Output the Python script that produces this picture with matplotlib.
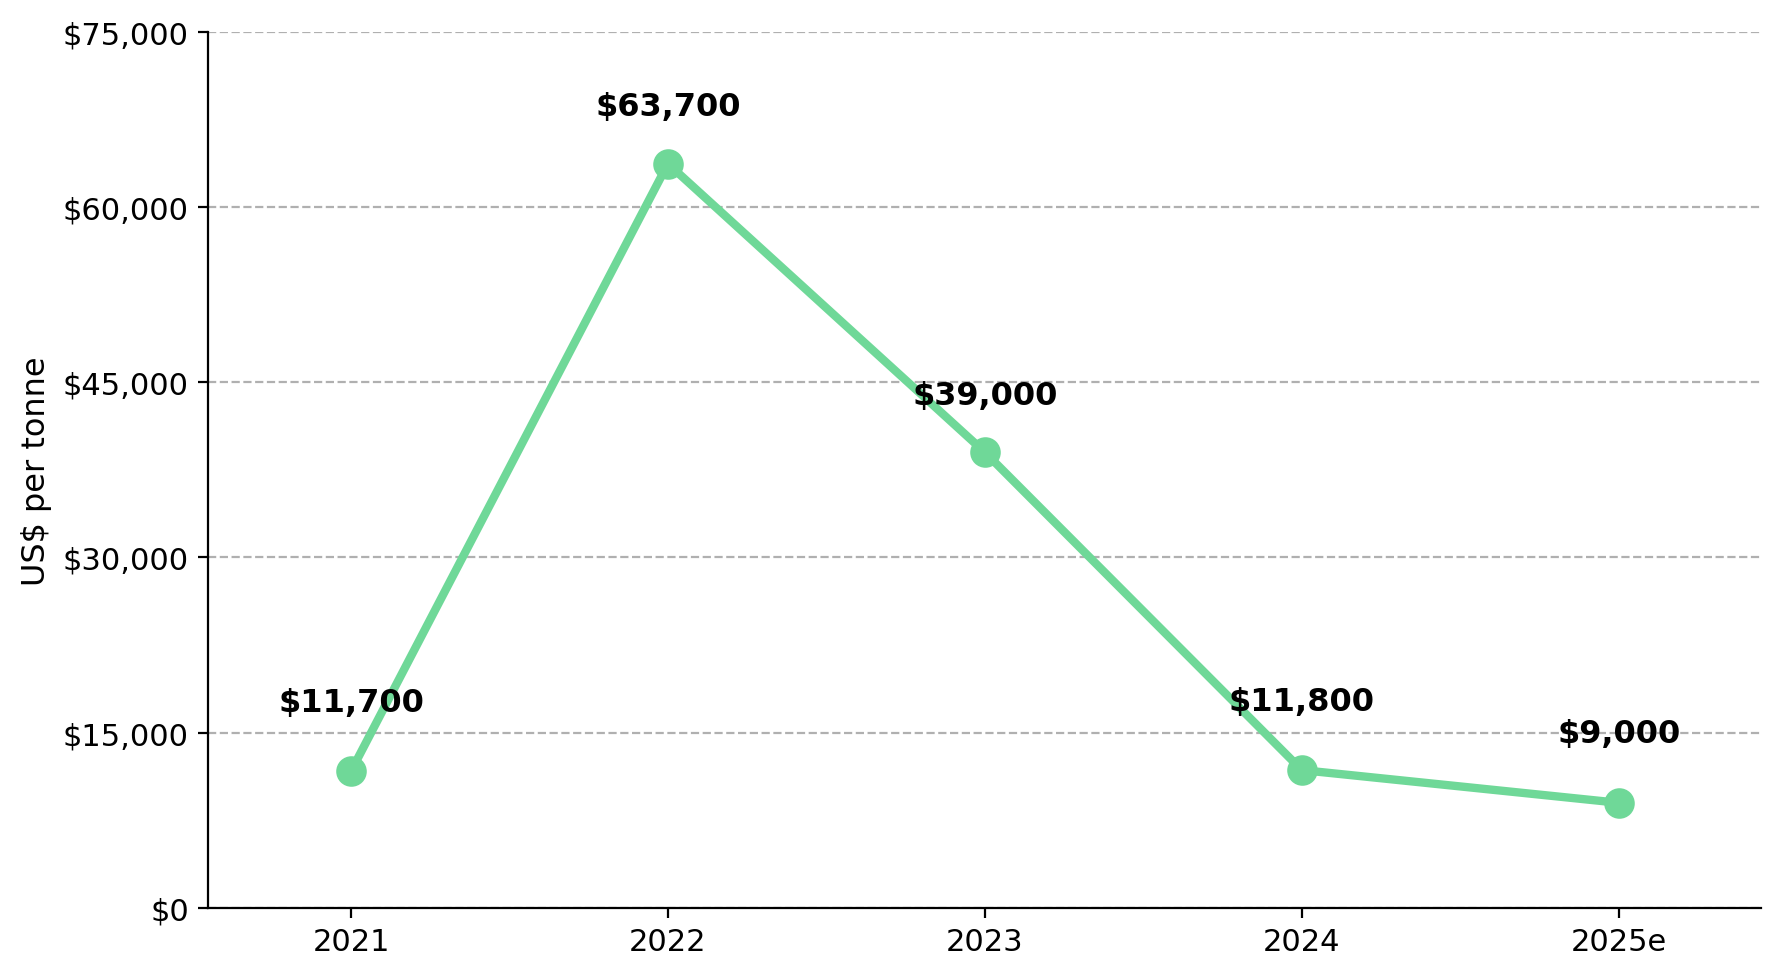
import matplotlib
matplotlib.use('Agg')
import matplotlib.pyplot as plt
from matplotlib.ticker import FuncFormatter

years = ['2021', '2022', '2023', '2024', '2025e']
prices = [11700, 63700, 39000, 11800, 9000]
labels = ['$11,700', '$63,700', '$39,000', '$11,800', '$9,000']

fig = plt.figure(figsize=(8.905, 4.89), dpi=200)
ax = fig.add_axes([0.117, 0.0706, 0.872, 0.896])

x = range(len(years))
ax.plot(x, prices, color='#6fd898', lw=3, marker='o', markersize=10, zorder=3)

# labels sit a bit higher above the low points
for i, (p, t) in enumerate(zip(prices, labels)):
    dy = 5900 if p < 15000 else 4900
    ax.text(i, p + dy, t, ha='center', va='center', fontsize=11.5, fontweight='bold')

ax.set_xlim(-0.45, 4.45)
ax.set_ylim(0, 75000)
ax.set_yticks([0, 15000, 30000, 45000, 60000, 75000])
ax.yaxis.set_major_formatter(FuncFormatter(lambda v, p: '${:,.0f}'.format(v)))
ax.set_xticks(list(x))
ax.set_xticklabels(years)
ax.tick_params(labelsize=11)
ax.set_ylabel('US$ per tonne', fontsize=11.5)
ax.grid(axis='y', linestyle='--', color='#b0b0b0', lw=0.8)
ax.set_axisbelow(True)
ax.spines['top'].set_visible(False)
ax.spines['right'].set_visible(False)

fig.savefig('out.png', dpi=200)
